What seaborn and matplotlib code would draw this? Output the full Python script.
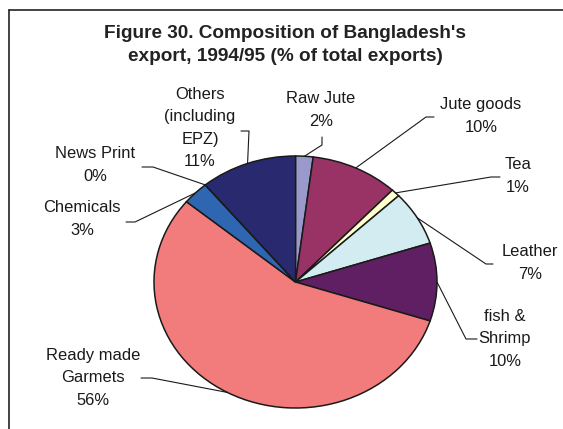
import numpy as np
import matplotlib
matplotlib.use("Agg")
import matplotlib.pyplot as plt
import seaborn as sns

sns.set_style("white")
plt.rcParams['font.family'] = ['Liberation Sans', 'DejaVu Sans']

# data
names = ["Raw Jute", "Jute goods", "Tea", "Leather", "fish &\nShrimp",
         "Ready made\nGarmets", "Chemicals", "News Print",
         "Others\n(including\nEPZ)"]
shares = [2, 10, 1, 7, 10, 56, 3, 0, 11]
colors = ["#9999cc", "#993366", "#ffffcc", "#d2ecf2", "#601f62",
          "#f27c7c", "#2e66b2", "#ffffff", "#29296f"]

# label layout in pixels (x right, y down): text centre, leader start, elbow
text_pos = [(321, 110), (481, 116), (518, 176), (530, 263), (505, 339),
            (93, 378), (82, 219), (95, 165), (200, 128)]
lead_start = [(322, 137), (434, 117), (500, 177), (493, 264), (477, 339),
              (141, 378), (126, 222), (142, 167), (241, 131)]
lead_elbow = [(322, 145), (426, 117), (491, 177), (486, 264), (466, 339),
              (152, 378), (135, 222), (153, 167), (249, 131)]

W, H = 563, 429
fig = plt.figure(figsize=(W / 100, H / 100), dpi=100)

# pie axes, slightly squashed like the original
ax = fig.add_axes([154 / W, 1 - 408 / H, (437 - 154) / W, (408 - 156) / H])
wedges, _ = ax.pie(shares, colors=colors, startangle=90, counterclock=False,
                   wedgeprops=dict(edgecolor="#1a1a1a", linewidth=1.1))
ax.set_aspect('auto')
ax.set_xlim(-1, 1)
ax.set_ylim(-1, 1)
ax.axis('off')

# overlay in pixel coords for title, labels and leader lines
ov = fig.add_axes([0, 0, 1, 1], zorder=5)
ov.set_xlim(0, W)
ov.set_ylim(H, 0)
ov.axis('off')
ov.patch.set_alpha(0)

# frame (cropped on right and bottom in the original)
ov.plot([9, W + 5], [10, 10], color="#222222", lw=1.2)
ov.plot([9, 9], [10, H + 5], color="#222222", lw=1.2)

ov.text(285, 45, "Figure 30. Composition of Bangladesh's\nexport, 1994/95 (% of total exports)",
        ha='center', va='center', fontsize=13.7, fontweight='bold',
        color="#222222", linespacing=1.5)

to_ov = ov.transData.inverted()
for i, w in enumerate(wedges):
    mid = np.deg2rad((w.theta1 + w.theta2) / 2)
    edge = to_ov.transform(ax.transData.transform((np.cos(mid), np.sin(mid))))
    xs = [lead_start[i][0], lead_elbow[i][0], edge[0]]
    ys = [lead_start[i][1], lead_elbow[i][1], edge[1]]
    ov.plot(xs, ys, color="#1a1a1a", lw=0.8)
    ov.text(text_pos[i][0], text_pos[i][1], f"{names[i]}\n{shares[i]:.0f}%",
            ha='center', va='center', fontsize=11.9, color="#1a1a1a",
            linespacing=1.6)

fig.savefig("out.png", dpi=100)
